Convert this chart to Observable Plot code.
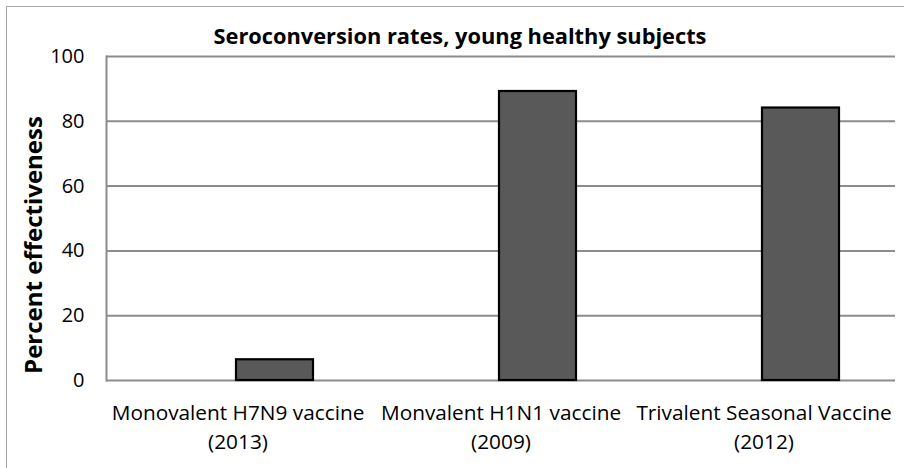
<!DOCTYPE html>
<html>
<head>
<meta charset="utf-8">
<script src="https://cdn.jsdelivr.net/npm/d3@7"></script>
<script src="https://cdn.jsdelivr.net/npm/@observablehq/plot@0.6"></script>
<style>
  html, body { margin: 0; padding: 0; background: #fff; }
  #page { position: relative; width: 904px; height: 468px; overflow: hidden; font-family: "Open Sans", sans-serif; }
  #border { position: absolute; left: 6px; top: 6px; width: 920px; height: 480px; border-left: 1.5px solid #a6a6a6; border-top: 1.5px solid #a6a6a6; }
  #title { position: absolute; left: 0; top: 21px; width: 920px; text-align: center; font-weight: bold; font-size: 21.8px; color: #000; line-height: 30px; }
  #ylabel { position: absolute; left: 33px; top: 245px; transform: translate(-50%, -50%) rotate(-90deg); white-space: nowrap; font-weight: bold; font-size: 24px; line-height: 30px; color: #000; }
  #chart { position: absolute; left: 0; top: 28px; }
</style>
</head>
<body>
<div id="page">
  <div id="border"></div>
  <div id="chart"></div>
  <div id="title">Seroconversion rates, young healthy subjects</div>
  <div id="ylabel"></div>
</div>
<script>
const categories = [
  "Monovalent H7N9 vaccine\n(2013)",
  "Monvalent H1N1 vaccine\n(2009)",
  "Trivalent Seasonal Vaccine\n(2012)"
];
const values = [6.4, 89.2, 84.1];
const yTicks = [0, 20, 40, 60, 80, 100];
const yLabel = "Percent effectiveness";

const data = categories.map((c, i) => ({category: c, value: values[i]}));

const plot = Plot.plot({
  width: 904,
  height: 440,
  marginTop: 28,
  marginBottom: 88,
  marginLeft: 106,
  marginRight: 9,
  style: {fontFamily: "Open Sans, sans-serif", fontSize: "20px", color: "#000", background: "transparent"},
  x: {domain: categories, padding: 0, label: null},
  y: {domain: [0, 100], label: null},
  marks: [
    Plot.gridY(yTicks, {stroke: "#8c8c8c", strokeOpacity: 1, strokeWidth: 2}),
    Plot.frame({anchor: "left", stroke: "#8c8c8c", strokeWidth: 2}),
    Plot.barY(data, {x: "category", y: "value", fill: "#595959", stroke: "#000", strokeWidth: 2.2, insetLeft: 130, insetRight: 56}),
    Plot.axisY({ticks: yTicks, tickSize: 0, tickPadding: 22, fontSize: 20, label: null}),
    Plot.axisX({tickSize: 0, tickPadding: 20, fontSize: 20.8, lineHeight: 1.35, label: null})
  ]
});
document.getElementById("chart").appendChild(plot);
document.getElementById("ylabel").textContent = yLabel;
</script>
</body>
</html>
